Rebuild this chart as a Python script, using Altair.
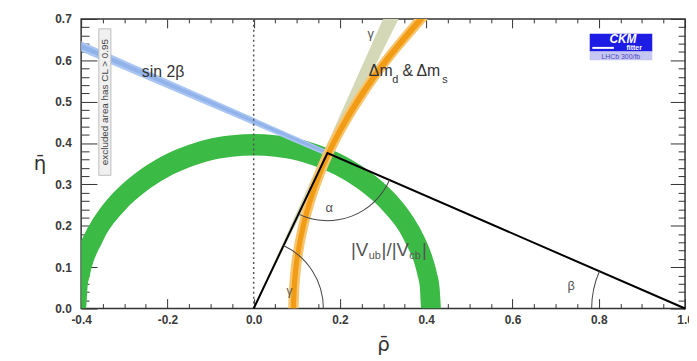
import altair as alt
import pandas as pd

W, H = 611, 293
FONT = "Liberation Sans"

# ---------------- data ----------------
green_x = [-0.40, -0.389, -0.385, -0.38, -0.35, -0.30, -0.25, -0.20, -0.15, -0.10, -0.05, 0.0,
           0.05, 0.10, 0.15, 0.20, 0.25, 0.30, 0.35, 0.38, 0.385, 0.389, 0.40, 0.415, 0.425, 0.431, 0.434]
green_outer = [0.164, 0.187, 0.195, 0.204, 0.250, 0.305, 0.345, 0.375, 0.396, 0.411, 0.419, 0.422,
               0.419, 0.411, 0.396, 0.375, 0.345, 0.305, 0.250, 0.204, 0.195, 0.187, 0.164, 0.123, 0.085, 0.050, 0.0]
green_inner = [0.0, 0.0, 0.053, 0.079, 0.162, 0.236, 0.283, 0.317, 0.341, 0.358, 0.367, 0.370,
               0.367, 0.358, 0.341, 0.317, 0.283, 0.236, 0.162, 0.079, 0.053, 0.0, 0.0, 0.0, 0.0, 0.0, 0.0]

s2b_x = [-0.4, 0.171]
s2b_hi = [0.646, 0.382]
s2b_lo = [0.621, 0.368]
s2b_core_hi = [0.640, 0.379]
s2b_core_lo = [0.628, 0.372]

gam_y = [0.0, 0.7]
gam_lo = [0.0, 0.300]
gam_hi = [0.0, 0.336]

dm_y = [0.0, 0.1, 0.2, 0.3, 0.4, 0.5, 0.6, 0.7]
dm_left = [0.080, 0.086, 0.103, 0.131, 0.172, 0.226, 0.293, 0.372]
dm_right = [0.104, 0.110, 0.127, 0.156, 0.198, 0.254, 0.322, 0.404]
dm_core_left = [0.086, 0.092, 0.109, 0.137, 0.178, 0.232, 0.299, 0.379]
dm_core_right = [0.098, 0.104, 0.121, 0.150, 0.192, 0.248, 0.316, 0.397]

tri_x = [0.0, 0.171, 1.0]
tri_y = [0.0, 0.376, 0.0]

x_major = [-0.4, -0.2, 0.0, 0.2, 0.4, 0.6, 0.8, 1.0]
x_minor = [-0.35, -0.3, -0.25, -0.15, -0.1, -0.05, 0.05, 0.1, 0.15, 0.25, 0.3, 0.35,
           0.45, 0.5, 0.55, 0.65, 0.7, 0.75, 0.85, 0.9, 0.95]
y_major = [0.0, 0.1, 0.2, 0.3, 0.4, 0.5, 0.6, 0.7]
y_minor = [0.02, 0.04, 0.06, 0.08, 0.12, 0.14, 0.16, 0.18, 0.22, 0.24, 0.26, 0.28,
           0.32, 0.34, 0.36, 0.38, 0.42, 0.44, 0.46, 0.48, 0.52, 0.54, 0.56, 0.58,
           0.62, 0.64, 0.66, 0.68]

# ---------------- scales / axes ----------------
X0, X1, Y0, Y1 = -0.4, 1.0, 0.0, 0.7
xs = alt.Scale(domain=[X0, X1], nice=False, zero=False)
ys = alt.Scale(domain=[Y0, Y1], nice=False, zero=False)

xaxis = alt.Axis(values=x_major, grid=False, ticks=False, tickSize=0, domain=False,
                 labelFlush=False, labelOverlap=False,
                 labelExpr="datum.value < 0 ? '-' + format(-datum.value, '.1f') : format(datum.value, '.1f')",
                 labelFont=FONT, labelFontSize=12, labelFontWeight="bold", labelColor="#3a3a3a",
                 labelPadding=6, title="ρ\u0304", titleFont="DejaVu Sans", titleFontSize=20,
                 titleFontWeight="normal", titleColor="#333", titleBaseline="middle", titleY=36)
yaxis = alt.Axis(values=y_major, grid=False, ticks=False, tickSize=0, domain=False,
                 labelFlush=False, labelOverlap=False, format=".1f",
                 labelFont=FONT, labelFontSize=12, labelFontWeight="bold", labelColor="#3a3a3a",
                 labelPadding=10, title="η\u0304", titleFont="DejaVu Sans", titleFontSize=20,
                 titleFontWeight="normal", titleColor="#333", titleAngle=0,
                 titleX=-42, titleY=146, titleAlign="center", titleBaseline="middle")


def X(f="x"):
    return alt.X(f"{f}:Q", scale=xs, axis=xaxis)


def Y(f="y"):
    return alt.Y(f"{f}:Q", scale=ys, axis=yaxis)


green = alt.Chart(pd.DataFrame({"x": green_x, "y": green_outer, "y2": green_inner})).mark_area(
    color="#3cba46", interpolate="monotone", clip=True).encode(x=X(), y=Y(), y2="y2:Q")
blue = alt.Chart(pd.DataFrame({"x": s2b_x, "y": s2b_hi, "y2": s2b_lo})).mark_area(
    color="#aac6f2", clip=True).encode(x=X(), y=Y(), y2="y2:Q")
blue_core = alt.Chart(pd.DataFrame({"x": s2b_x, "y": s2b_core_hi, "y2": s2b_core_lo})).mark_area(
    color="#92b3ea", clip=True).encode(x=X(), y=Y(), y2="y2:Q")
gamma = alt.Chart(pd.DataFrame({"y": gam_y, "x": gam_lo, "x2": gam_hi})).mark_area(
    color="#d5d8b6", orient="horizontal", clip=True).encode(y=Y(), x=X(), x2="x2:Q")
orange = alt.Chart(pd.DataFrame({"y": dm_y, "x": dm_left, "x2": dm_right})).mark_area(
    color="#f7c46e", orient="horizontal", interpolate="monotone", clip=True).encode(y=Y(), x=X(), x2="x2:Q")
orange_core = alt.Chart(pd.DataFrame({"y": dm_y, "x": dm_core_left, "x2": dm_core_right})).mark_area(
    color="#f29b14", orient="horizontal", interpolate="monotone", clip=True).encode(y=Y(), x=X(), x2="x2:Q")

dashed = alt.Chart(pd.DataFrame({"x": [0.0], "x2": [0.0], "y": [Y0], "y2": [Y1]})).mark_rule(
    color="#555", strokeDash=[2, 3], strokeWidth=1.5).encode(x=X(), x2="x2:Q", y=Y(), y2="y2:Q")
triangle = alt.Chart(pd.DataFrame({"x": tri_x, "y": tri_y})).mark_line(
    color="#000", strokeWidth=2).encode(x=X(), y=Y())

arc_gamma = alt.Chart(pd.DataFrame({"x": [tri_x[0]], "y": [tri_y[0]]})).mark_arc(
    color="#444", radius=71, radius2=70, theta=0.442, theta2=1.5708).encode(x=X(), y=Y())
arc_alpha = alt.Chart(pd.DataFrame({"x": [tri_x[1]], "y": [tri_y[1]]})).mark_arc(
    color="#444", radius=69, radius2=68, theta=1.982, theta2=3.584).encode(x=X(), y=Y())
arc_beta = alt.Chart(pd.DataFrame({"x": [tri_x[2]], "y": [tri_y[2]]})).mark_arc(
    color="#444", radius=95, radius2=94, theta=4.7124, theta2=5.123).encode(x=X(), y=Y())


def label(x, y, t, **kw):
    style = dict(font=FONT, color="#333", fontSize=16, align="left", baseline="middle")
    style.update(kw)
    return alt.Chart(pd.DataFrame({"x": [x], "y": [y], "t": [t]})).mark_text(**style).encode(
        x=X(), y=Y(), text="t:N")


texts = [
    label(-0.21, 0.571, "sin 2β", align="center"),
    label(0.267, 0.573, "Δm"),
    label(0.321, 0.553, "d", fontSize=11),
    label(0.345, 0.573, "& Δm"),
    label(0.437, 0.553, "s", fontSize=11),
    label(0.2255, 0.1425, "|V", fontSize=19, color="#555"),
    label(0.2667, 0.127, "ub", fontSize=11, color="#555"),
    label(0.2965, 0.1425, "|/|V", fontSize=19, color="#555"),
    label(0.3607, 0.127, "cb", fontSize=11, color="#555"),
    label(0.3904, 0.1425, "|", fontSize=19, color="#555"),
    label(0.271, 0.664, "γ", fontSize=13, color="#555", align="center"),
    label(0.175, 0.243, "α", fontSize=13, color="#555", align="center"),
    label(0.083, 0.042, "γ", fontSize=12, color="#555", align="center"),
    label(0.736, 0.054, "β", fontSize=13, color="#555", align="center"),
]

excl_box = alt.Chart(pd.DataFrame({"x": [-0.359], "x2": [-0.331], "y": [0.676], "y2": [0.322]})).mark_rect(
    fill="#f0f0f0", stroke="#bdbdbd", strokeWidth=1).encode(x=X(), x2="x2:Q", y=Y(), y2="y2:Q")
excl_text = label(-0.345, 0.499, "excluded area has CL > 0.95", fontSize=10, color="#444",
                  align="center", angle=270)

logo_blue = alt.Chart(pd.DataFrame({"x": [0.779], "x2": [0.924], "y": [0.664], "y2": [0.621]})).mark_rect(
    fill="#1c1ce4").encode(x=X(), x2="x2:Q", y=Y(), y2="y2:Q")
logo_lav = alt.Chart(pd.DataFrame({"x": [0.779], "x2": [0.924], "y": [0.621], "y2": [0.600]})).mark_rect(
    fill="#c6c6f2").encode(x=X(), x2="x2:Q", y=Y(), y2="y2:Q")
logo_bar = alt.Chart(pd.DataFrame({"x": [0.785], "x2": [0.835], "y": [0.630]})).mark_rule(
    color="white", strokeWidth=2).encode(x=X(), x2="x2:Q", y=Y())
logo_texts = [
    label(0.856, 0.652, "CKM", fontSize=12, color="white", fontStyle="italic", fontWeight="bold", align="center"),
    label(0.882, 0.629, "fitter", fontSize=7, color="white", fontWeight="bold", align="center"),
    label(0.851, 0.6075, "LHCb 300/fb", fontSize=7, color="#4a4ac6", align="center"),
]

main = alt.layer(
    green, blue, blue_core, gamma, orange, orange_core, dashed, triangle,
    arc_gamma, arc_alpha, arc_beta, excl_box, excl_text, logo_blue, logo_lav, logo_bar,
    *texts, *logo_texts)

# ---------------- inward ticks: extra axes moved onto the opposite edge ----------------
anchor = pd.DataFrame({"x": [0.3], "y": [0.3]})


def tick_axis(channel, orient, values, size):
    ax = alt.Axis(orient=orient, offset=-(H if channel == "x" else W), values=values,
                  tickSize=size, tickColor="#333", tickWidth=1, ticks=True, labels=False,
                  domain=False, grid=False, title="")
    if channel == "x":
        enc = dict(x=alt.X("x:Q", scale=xs, axis=ax), y=alt.Y("y:Q", scale=ys, axis=None))
    else:
        enc = dict(x=alt.X("x:Q", scale=xs, axis=None), y=alt.Y("y:Q", scale=ys, axis=ax))
    return alt.Chart(anchor).mark_point(opacity=0).encode(**enc)


tick_layers = [
    tick_axis("x", "top", x_major, 10), tick_axis("x", "top", x_minor, 5),      # bottom edge
    tick_axis("x", "bottom", x_major, 9), tick_axis("x", "bottom", x_minor, 4),  # top edge
    tick_axis("y", "right", y_major, 16), tick_axis("y", "right", y_minor, 8),   # left edge
    tick_axis("y", "left", y_major, 15), tick_axis("y", "left", y_minor, 7),     # right edge
]

chart = alt.layer(main, *tick_layers).resolve_axis(x="independent", y="independent").properties(
    width=W, height=H,
    autosize=alt.AutoSizeParams(type="none"),
    padding={"left": 74, "top": 9, "right": 4, "bottom": 48},
    background="white",
).configure_view(stroke="#333", strokeWidth=1.5)

chart.save("out.html", embed_options={"renderer": "svg", "actions": False})
